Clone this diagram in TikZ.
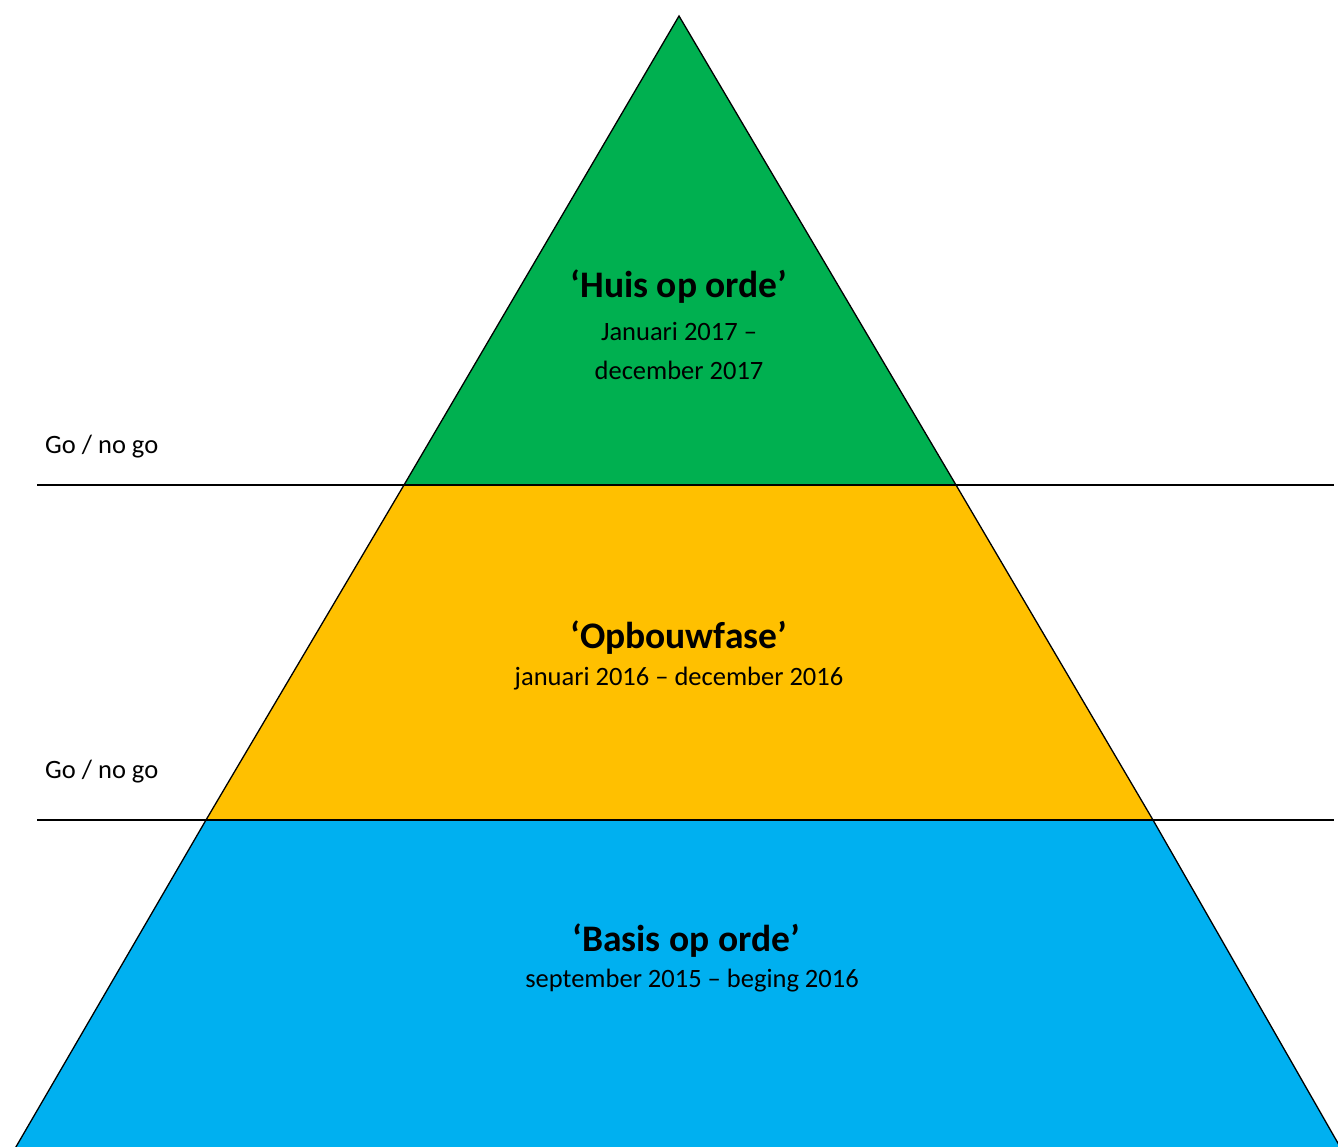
\documentclass[tikz,border=0pt]{standalone}
\usepackage{fontspec}
\setmainfont{Carlito}
\definecolor{pgreen}{HTML}{00B050}
\definecolor{pyellow}{HTML}{FFC000}
\definecolor{pblue}{HTML}{00B0F0}
\begin{document}
\begin{tikzpicture}[x=1pt,y=-1pt,
  band/.style={draw=black,line width=1.3pt,line join=miter},
  divider/.style={draw=black,line width=2pt},
  title/.style={anchor=base,font=\fontsize{37.5}{44}\selectfont\bfseries,inner sep=0pt},
  body/.style={anchor=base,font=\fontsize{26.5}{38}\selectfont,inner sep=0pt},
  gonogo/.style={anchor=base west,font=\fontsize{26.5}{31}\selectfont,inner sep=0pt}]
\useasboundingbox (0,0) rectangle (1338,1147);
\begin{scope}
\clip (0,0) rectangle (1338,1147);
% coordinates
\coordinate (apex) at (679,16);
\coordinate (gl) at (404,485);
\coordinate (gr) at (956,485);
\coordinate (yl) at (206,820);
\coordinate (yr) at (1153,820);
\coordinate (bl) at (13,1152);
\coordinate (br) at (1343,1152);
% bands
\path[band,fill=pblue] (yl) -- (yr) -- (br) -- (bl) -- cycle;
\path[band,fill=pyellow] (gl) -- (gr) -- (yr) -- (yl) -- cycle;
\path[band,fill=pgreen] (apex) -- (gr) -- (gl) -- cycle;
% dividers
\coordinate (d1a) at (37,485);
\coordinate (d1b) at (1334,485);
\coordinate (d2a) at (37,820);
\coordinate (d2b) at (1334,820);
\draw[divider] (d1a) -- (d1b);
\draw[divider] (d2a) -- (d2b);
\end{scope}
% texts
\node[title] (t1) at (679,298) {‘Huis op orde’};
\node[body] (s1a) at (679,341) {Januari 2017 –};
\node[body] (s1b) at (679,379) {december 2017};
\node[title] (t2) at (679,648) {‘Opbouwfase’};
\node[body] (s2) at (679,685) {januari 2016 – december 2016};
\node[title] (t3) at (686,951) {‘Basis op orde’};
\node[body] (s3) at (692,987) {september 2015 – beging 2016};
\node[gonogo] (g1) at (45,453) {Go / no go};
\node[gonogo] (g2) at (45,778) {Go / no go};
\end{tikzpicture}
\end{document}
